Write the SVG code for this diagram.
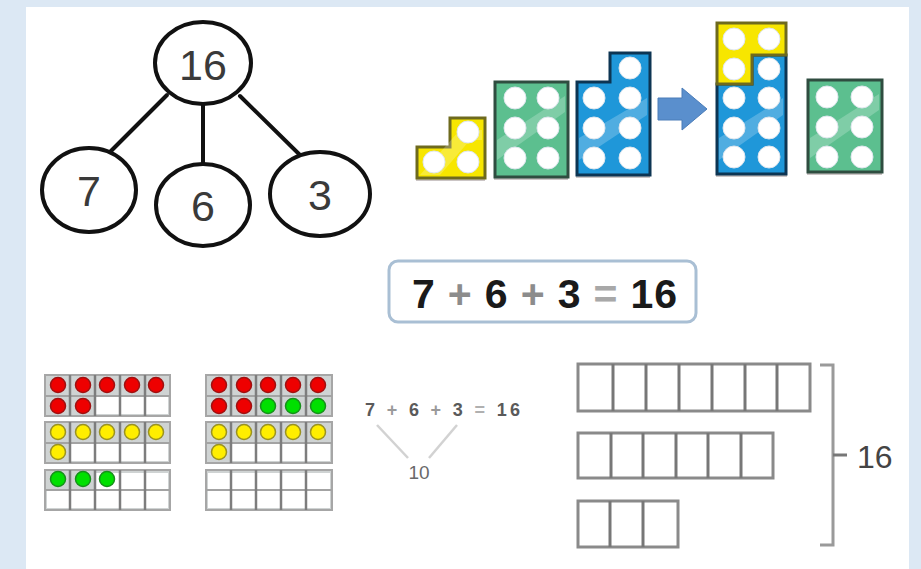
<svg xmlns="http://www.w3.org/2000/svg" width="921" height="569" viewBox="0 0 921 569">
  <style>
    .bond { fill: #ffffff; stroke: #111; stroke-width: 4; }
    .bondtxt { font-family: "Liberation Sans", Arial, sans-serif; font-size: 43px; fill: #3a3a3a; text-anchor: middle; }
    .link { stroke: #111; stroke-width: 4; fill: none; stroke-linecap: round; }
    .hole { fill: #ffffff; stroke: #dfe6ee; stroke-width: 1; }
    .shadow { fill: #b5adad; opacity: 0.7; }
    .yel { fill: #f7e600; stroke: #6e6a1e; stroke-width: 3; stroke-linejoin: miter; }
    .grn { fill: #5cbf8f; stroke: #2f4d40; stroke-width: 3; }
    .blu { fill: #1f97d9; stroke: #0d3553; stroke-width: 3; }
    .gloss { fill: #ffffff; opacity: 0.22; }
    .frame { fill: #cfd3d3; stroke: #a6a6a6; stroke-width: 2; }
    .cell { fill: #ffffff; }
    .grid { stroke: #7d7d7d; stroke-width: 2.5; }
    .hgrid { stroke: #a3a3a3; stroke-width: 2; }
    .red { fill: #ee0000; stroke: #a01010; stroke-width: 1.5; }
    .yc { fill: #ffee00; stroke: #9a9220; stroke-width: 1.5; }
    .gc { fill: #00e000; stroke: #16901a; stroke-width: 1.5; }
    .bar { fill: #ffffff; stroke: #8a8a8a; stroke-width: 3; }
    .bdiv { stroke: #777; stroke-width: 3; }
  </style>

  <!-- page background and white card -->
  <rect x="0" y="0" width="921" height="569" fill="#dce8f4"/>
  <rect x="26" y="7" width="883" height="562" fill="#ffffff"/>

  <!-- number bond connectors -->
  <g id="connectors">
    <line class="link" x1="167" y1="95" x2="110" y2="152"/>
    <line class="link" x1="203" y1="104" x2="203" y2="164"/>
    <line class="link" x1="240" y1="96" x2="300" y2="155"/>
  </g>

  <g id="bond-16">
    <ellipse class="bond" cx="203" cy="63" rx="48" ry="41"/>
    <text class="bondtxt" x="203" y="80">16</text>
  </g>
  <g id="bond-7">
    <ellipse class="bond" cx="89" cy="190" rx="47" ry="42"/>
    <text class="bondtxt" x="89" y="206">7</text>
  </g>
  <g id="bond-6">
    <ellipse class="bond" cx="203" cy="205" rx="47" ry="41"/>
    <text class="bondtxt" x="203" y="221">6</text>
  </g>
  <g id="bond-3">
    <ellipse class="bond" cx="320" cy="194" rx="50" ry="42"/>
    <text class="bondtxt" x="320" y="210">3</text>
  </g>

  <!-- number blocks: 3 + 6 + 7 -->
  <g id="block-yellow-3">
    <polygon class="shadow" points="416,150 450,150 450,121 485,121 485,181 416,181"/>
    <polygon class="yel" points="417,147 450,147 450,118 485,118 485,178 417,178"/>
    <polygon class="gloss" points="420,175 440,175 470,140 482,140 482,130 460,130"/>
    <circle class="hole" cx="434" cy="162" r="11"/>
    <circle class="hole" cx="468" cy="162" r="11"/>
    <circle class="hole" cx="468" cy="132" r="11"/>
  </g>
  <g id="block-green-6">
    <rect class="shadow" x="494" y="85" width="74" height="95"/>
    <rect class="grn" x="495" y="82" width="73" height="95"/>
    <polygon class="gloss" points="497,140 497,160 565,112 565,96"/>
    <circle class="hole" cx="515" cy="98" r="11"/>
    <circle class="hole" cx="548" cy="98" r="11"/>
    <circle class="hole" cx="515" cy="128" r="11"/>
    <circle class="hole" cx="548" cy="128" r="11"/>
    <circle class="hole" cx="515" cy="158" r="11"/>
    <circle class="hole" cx="548" cy="158" r="11"/>
  </g>
  <g id="block-blue-7">
    <polygon class="shadow" points="576,85 610,85 610,56 650,56 650,178 576,178"/>
    <polygon class="blu" points="577,82 610,82 610,53 650,53 650,175 577,175"/>
    <polygon class="gloss" points="579,138 579,160 647,115 647,98"/>
    <circle class="hole" cx="630" cy="68" r="11"/>
    <circle class="hole" cx="594" cy="98" r="11"/>
    <circle class="hole" cx="630" cy="98" r="11"/>
    <circle class="hole" cx="594" cy="128" r="11"/>
    <circle class="hole" cx="630" cy="128" r="11"/>
    <circle class="hole" cx="594" cy="158" r="11"/>
    <circle class="hole" cx="630" cy="158" r="11"/>
  </g>

  <g id="arrow">
    <polygon points="658,98 682,98 682,88 707,109 682,130 682,120 658,120" fill="#5a8fcd" stroke="#4a7cb8" stroke-width="1"/>
  </g>

  <!-- combined: 3 + 7 = 10, plus 6 -->
  <g id="block-ten">
    <rect class="shadow" x="716" y="26" width="71" height="151"/>
    <polygon class="blu" points="752,55 786,55 786,174 717,174 717,84 752,84"/>
    <polygon class="yel" points="717,23 786,23 786,55 752,55 752,84 717,84"/>
    <polygon class="gloss" points="719,138 719,160 783,115 783,98"/>
    <circle class="hole" cx="734" cy="39" r="11"/>
    <circle class="hole" cx="769" cy="39" r="11"/>
    <circle class="hole" cx="734" cy="69" r="11"/>
    <circle class="hole" cx="769" cy="69" r="11"/>
    <circle class="hole" cx="734" cy="98" r="11"/>
    <circle class="hole" cx="769" cy="98" r="11"/>
    <circle class="hole" cx="734" cy="128" r="11"/>
    <circle class="hole" cx="769" cy="128" r="11"/>
    <circle class="hole" cx="734" cy="157" r="11"/>
    <circle class="hole" cx="769" cy="157" r="11"/>
  </g>
  <g id="block-green-6b">
    <rect class="shadow" x="807" y="83" width="75" height="92"/>
    <rect class="grn" x="808" y="80" width="74" height="92"/>
    <polygon class="gloss" points="810,138 810,158 879,110 879,94"/>
    <circle class="hole" cx="827" cy="97" r="11"/>
    <circle class="hole" cx="862" cy="97" r="11"/>
    <circle class="hole" cx="827" cy="127" r="11"/>
    <circle class="hole" cx="862" cy="127" r="11"/>
    <circle class="hole" cx="827" cy="157" r="11"/>
    <circle class="hole" cx="862" cy="157" r="11"/>
  </g>

  <!-- equation card -->
  <g id="equation">
    <rect x="389" y="261" width="307" height="61" rx="9" fill="#ffffff" stroke="#a9bfd4" stroke-width="3"/>
    <text x="412" y="308" font-family="Liberation Sans, Arial, sans-serif" font-size="41" font-weight="bold" fill="#1a1a1a" textLength="265" lengthAdjust="spacing">7 <tspan fill="#8c8c8c">+</tspan> 6 <tspan fill="#8c8c8c">+</tspan> 3 <tspan fill="#a8a8a8">=</tspan> 16</text>
  </g>

  <!-- ten frames, left set: 7, 6, 3 -->
  <g id="tenframes-left">
    <rect class="frame" x="45" y="375" width="125" height="41"/>
    <rect class="cell" x="96" y="397" width="23" height="17"/>
    <rect class="cell" x="121" y="397" width="23" height="17"/>
    <rect class="cell" x="146" y="397" width="22" height="17"/>
    <line class="hgrid" x1="45" y1="396" x2="170" y2="396"/>
    <line class="grid" x1="70" y1="375" x2="70" y2="416"/>
    <line class="grid" x1="95" y1="375" x2="95" y2="416"/>
    <line class="grid" x1="120" y1="375" x2="120" y2="416"/>
    <line class="grid" x1="145" y1="375" x2="145" y2="416"/>
    <circle class="red" cx="58" cy="385" r="7.5"/>
    <circle class="red" cx="83" cy="385" r="7.5"/>
    <circle class="red" cx="107" cy="385" r="7.5"/>
    <circle class="red" cx="132" cy="385" r="7.5"/>
    <circle class="red" cx="156" cy="385" r="7.5"/>
    <circle class="red" cx="58" cy="406" r="7.5"/>
    <circle class="red" cx="83" cy="406" r="7.5"/>

    <rect class="frame" x="45" y="422" width="125" height="41"/>
    <rect class="cell" x="71" y="444" width="23" height="17"/>
    <rect class="cell" x="96" y="444" width="23" height="17"/>
    <rect class="cell" x="121" y="444" width="23" height="17"/>
    <rect class="cell" x="146" y="444" width="22" height="17"/>
    <line class="hgrid" x1="45" y1="443" x2="170" y2="443"/>
    <line class="grid" x1="70" y1="422" x2="70" y2="463"/>
    <line class="grid" x1="95" y1="422" x2="95" y2="463"/>
    <line class="grid" x1="120" y1="422" x2="120" y2="463"/>
    <line class="grid" x1="145" y1="422" x2="145" y2="463"/>
    <circle class="yc" cx="58" cy="432" r="7.5"/>
    <circle class="yc" cx="83" cy="432" r="7.5"/>
    <circle class="yc" cx="107" cy="432" r="7.5"/>
    <circle class="yc" cx="132" cy="432" r="7.5"/>
    <circle class="yc" cx="156" cy="432" r="7.5"/>
    <circle class="yc" cx="58" cy="452" r="7.5"/>

    <rect class="frame" x="45" y="470" width="125" height="40"/>
    <rect class="cell" x="96" y="473" width="23" height="16"/>
    <rect class="cell" x="121" y="473" width="23" height="16"/>
    <rect class="cell" x="146" y="473" width="22" height="16"/>
    <rect class="cell" x="47" y="491" width="121" height="17"/>
    <line class="hgrid" x1="45" y1="490" x2="170" y2="490"/>
    <line class="grid" x1="70" y1="470" x2="70" y2="510"/>
    <line class="grid" x1="95" y1="470" x2="95" y2="510"/>
    <line class="grid" x1="120" y1="470" x2="120" y2="510"/>
    <line class="grid" x1="145" y1="470" x2="145" y2="510"/>
    <circle class="gc" cx="58" cy="479" r="7.5"/>
    <circle class="gc" cx="83" cy="479" r="7.5"/>
    <circle class="gc" cx="107" cy="479" r="7.5"/>
  </g>

  <!-- ten frames, right set: 7 + 3 make ten, then 6 -->
  <g id="tenframes-right">
    <rect class="frame" x="206" y="375" width="126" height="41"/>
    <line class="hgrid" x1="206" y1="396" x2="332" y2="396"/>
    <line class="grid" x1="231" y1="375" x2="231" y2="416"/>
    <line class="grid" x1="256" y1="375" x2="256" y2="416"/>
    <line class="grid" x1="281" y1="375" x2="281" y2="416"/>
    <line class="grid" x1="306" y1="375" x2="306" y2="416"/>
    <circle class="red" cx="219" cy="385" r="7.5"/>
    <circle class="red" cx="244" cy="385" r="7.5"/>
    <circle class="red" cx="268" cy="385" r="7.5"/>
    <circle class="red" cx="293" cy="385" r="7.5"/>
    <circle class="red" cx="318" cy="385" r="7.5"/>
    <circle class="red" cx="219" cy="406" r="7.5"/>
    <circle class="red" cx="244" cy="406" r="7.5"/>
    <circle class="gc" cx="268" cy="406" r="7.5"/>
    <circle class="gc" cx="293" cy="406" r="7.5"/>
    <circle class="gc" cx="318" cy="406" r="7.5"/>

    <rect class="frame" x="206" y="422" width="126" height="41"/>
    <rect class="cell" x="232" y="444" width="23" height="17"/>
    <rect class="cell" x="257" y="444" width="23" height="17"/>
    <rect class="cell" x="282" y="444" width="23" height="17"/>
    <rect class="cell" x="307" y="444" width="23" height="17"/>
    <line class="hgrid" x1="206" y1="443" x2="332" y2="443"/>
    <line class="grid" x1="231" y1="422" x2="231" y2="463"/>
    <line class="grid" x1="256" y1="422" x2="256" y2="463"/>
    <line class="grid" x1="281" y1="422" x2="281" y2="463"/>
    <line class="grid" x1="306" y1="422" x2="306" y2="463"/>
    <circle class="yc" cx="219" cy="432" r="7.5"/>
    <circle class="yc" cx="244" cy="432" r="7.5"/>
    <circle class="yc" cx="268" cy="432" r="7.5"/>
    <circle class="yc" cx="293" cy="432" r="7.5"/>
    <circle class="yc" cx="318" cy="432" r="7.5"/>
    <circle class="yc" cx="219" cy="452" r="7.5"/>

    <rect class="frame" x="206" y="470" width="126" height="40"/>
    <rect class="cell" x="208" y="473" width="122" height="16"/>
    <rect class="cell" x="208" y="491" width="122" height="17"/>
    <line class="hgrid" x1="206" y1="490" x2="332" y2="490"/>
    <line class="grid" x1="231" y1="470" x2="231" y2="510"/>
    <line class="grid" x1="256" y1="470" x2="256" y2="510"/>
    <line class="grid" x1="281" y1="470" x2="281" y2="510"/>
    <line class="grid" x1="306" y1="470" x2="306" y2="510"/>
  </g>

  <!-- bridging to ten -->
  <g id="make-ten">
    <text x="365" y="416" font-family="Liberation Sans, Arial, sans-serif" font-size="18" font-weight="bold" fill="#5a5a5a" textLength="155" lengthAdjust="spacing">7 <tspan fill="#9a9a9a">+</tspan> 6 <tspan fill="#9a9a9a">+</tspan> 3 <tspan fill="#b0b0b0">=</tspan> 16</text>
    <line x1="377" y1="425" x2="408" y2="458" stroke="#d2d2d2" stroke-width="2.5"/>
    <line x1="457" y1="425" x2="429" y2="458" stroke="#d2d2d2" stroke-width="2.5"/>
    <text x="419" y="479" font-family="Liberation Sans, Arial, sans-serif" font-size="19" fill="#6a6a6a" text-anchor="middle">10</text>
  </g>

  <!-- bar model -->
  <g id="bar-model">
    <rect class="bar" x="578" y="364" width="232" height="47"/>
    <line class="bdiv" x1="613" y1="364" x2="613" y2="411"/>
    <line class="bdiv" x1="646" y1="364" x2="646" y2="411"/>
    <line class="bdiv" x1="679" y1="364" x2="679" y2="411"/>
    <line class="bdiv" x1="712" y1="364" x2="712" y2="411"/>
    <line class="bdiv" x1="745" y1="364" x2="745" y2="411"/>
    <line class="bdiv" x1="777" y1="364" x2="777" y2="411"/>

    <rect class="bar" x="578" y="433" width="195" height="45"/>
    <line class="bdiv" x1="611" y1="433" x2="611" y2="478"/>
    <line class="bdiv" x1="643" y1="433" x2="643" y2="478"/>
    <line class="bdiv" x1="676" y1="433" x2="676" y2="478"/>
    <line class="bdiv" x1="708" y1="433" x2="708" y2="478"/>
    <line class="bdiv" x1="741" y1="433" x2="741" y2="478"/>

    <rect class="bar" x="578" y="501" width="100" height="46"/>
    <line class="bdiv" x1="610" y1="501" x2="610" y2="547"/>
    <line class="bdiv" x1="643" y1="501" x2="643" y2="547"/>

    <polyline points="820,365 833,365 833,545 820,545" fill="none" stroke="#9a9a9a" stroke-width="3"/>
    <line x1="833" y1="455" x2="847" y2="455" stroke="#777" stroke-width="3"/>
    <text x="857" y="468" font-family="Liberation Sans, Arial, sans-serif" font-size="32" fill="#444">16</text>
  </g>
</svg>
